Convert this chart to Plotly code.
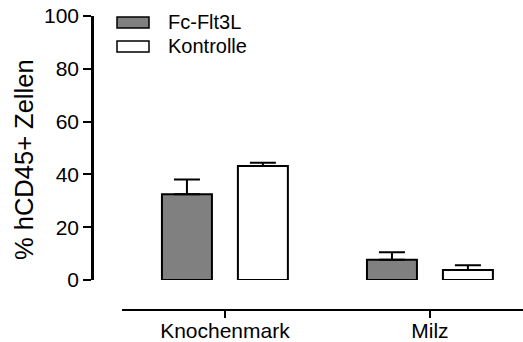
import plotly.graph_objects as go

# Data: % hCD45+ cells per tissue, mean and upper error (SEM)
categories = ["Knochenmark", "Milz"]
series_names = ["Fc-Flt3L", "Kontrolle"]
fc_flt3l = [32.5, 7.7]
fc_flt3l_err = [5.6, 2.8]
kontrolle = [43.2, 3.8]
kontrolle_err = [1.2, 1.8]
y_ticks = [0, 20, 40, 60, 80, 100]

fills = ["#808080", "#ffffff"]
values = [fc_flt3l, kontrolle]
errors = [fc_flt3l_err, kontrolle_err]

FONT = "Liberation Sans, Arial, sans-serif"

fig = go.Figure()
for name, vals, errs, fill in zip(series_names, values, errors, fills):
    fig.add_trace(go.Bar(
        x=categories,
        y=vals,
        name=name,
        marker=dict(color=fill, line=dict(color="black", width=2)),
        error_y=dict(type="data", symmetric=False, array=errs,
                     arrayminus=[0] * len(errs),
                     color="black", thickness=2, width=13),
        showlegend=False,
    ))

# Legend drawn as swatches plus labels
legend_rows = [22.5, 46.5]
for name, fill, yc in zip(series_names, fills, legend_rows):
    fig.add_shape(type="rect", xref="paper", yref="paper",
                  x0=(117 - 92) / 431, x1=(149 - 92) / 431,
                  y0=(310 - (yc + 5.5)) / 294, y1=(310 - (yc - 5.5)) / 294,
                  fillcolor=fill, line=dict(color="black", width=1.5))
    fig.add_annotation(text=name, xref="paper", yref="paper",
                       x=(166 - 92) / 431, y=(310 - yc) / 294,
                       xanchor="left", yanchor="middle", showarrow=False,
                       font=dict(family=FONT, size=20, color="black"))

fig.add_annotation(text="% hCD45+ Zellen", textangle=-90,
                   xref="paper", yref="paper",
                   x=(24 - 92) / 431, y=(310 - 160) / 294,
                   xanchor="center", yanchor="middle", showarrow=False,
                   font=dict(family=FONT, size=25.5, color="black"))

fig.update_layout(
    width=523, height=342,
    margin=dict(l=92, r=0, t=16, b=32),
    paper_bgcolor="white", plot_bgcolor="white",
    barmode="group", bargap=0.259, bargroupgap=0.342,
    font=dict(family=FONT, size=21, color="black"),
    xaxis=dict(
        domain=[(122 - 92) / 431, 1],
        range=[-0.502, 1.454],
        anchor="free", position=0, automargin=False,
        showline=True, linecolor="black", linewidth=2,
        ticks="outside", ticklen=7, tickwidth=2, tickcolor="black",
        ticklabelstandoff=-5,
        showgrid=False, zeroline=False,
        tickfont=dict(family=FONT, size=21),
    ),
    yaxis=dict(
        domain=[(310 - 280) / 294, 1],
        range=[0, 100],
        tickvals=y_ticks,
        anchor="free", position=0, automargin=False,
        showline=True, linecolor="black", linewidth=2.5,
        ticks="outside", ticklen=8, tickwidth=2, tickcolor="black",
        showgrid=False, zeroline=False,
        tickfont=dict(family=FONT, size=21),
    ),
)

fig.write_html("out.html")
